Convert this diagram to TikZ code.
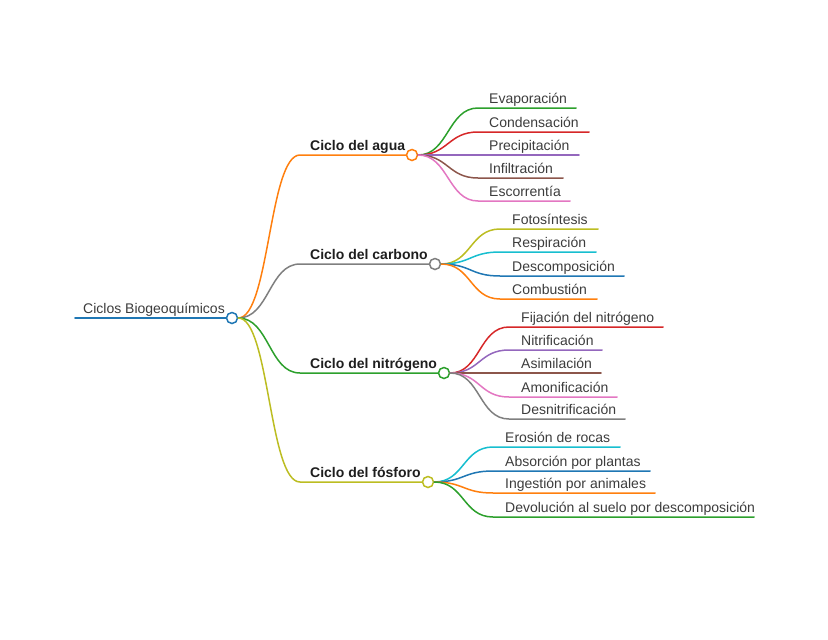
\documentclass[tikz,border=0pt]{standalone}
\usepackage{fontspec}
\setmainfont{Liberation Sans}
\usepackage{tikz}
\usetikzlibrary{positioning}
\definecolor{cblue}{HTML}{1F77B4}
\definecolor{corange}{HTML}{FF7F0E}
\definecolor{cgreen}{HTML}{2CA02C}
\definecolor{cred}{HTML}{D62728}
\definecolor{cpurple}{HTML}{9467BD}
\definecolor{cbrown}{HTML}{8C564B}
\definecolor{cpink}{HTML}{E377C2}
\definecolor{cgray}{HTML}{7F7F7F}
\definecolor{colive}{HTML}{BCBD22}
\definecolor{ccyan}{HTML}{17BECF}
\definecolor{txtgray}{HTML}{3C3C3C}
\definecolor{txtdark}{HTML}{1E1E1E}

\begin{document}
\begin{tikzpicture}[x=1pt, y=-1pt, line cap=round,
    every node/.style={font=\fontsize{14}{16}\selectfont, text=txtgray, inner sep=0pt},
    hub/.style={circle, fill=white, line width=1.5pt, minimum size=11pt},
    leaf/.style={anchor=base west},
    branch/.style={anchor=base west, font=\fontsize{14}{16}\selectfont\bfseries, text=txtdark},
    link/.style={line width=1.5pt}]
    \useasboundingbox (0,0) rectangle (828,640);

    % centre
    \node[hub, draw=cblue] (root) at (232,318) {};
    \coordinate (root-s) at (75,318);
    \node[leaf] (roottxt) at (83,313) {Ciclos Biogeoquímicos};
    \draw[link, cblue, line width=1.8pt] (root-s) -- (root.west);

    % ciclos
    \node[hub, draw=corange] (agua) at (412,155) {};
    \node[hub, draw=cgray] (carb) at (435,264) {};
    \node[hub, draw=cgreen] (nitro) at (444,373) {};
    \node[hub, draw=colive] (fosf) at (428,482) {};
    \coordinate (agua-s) at (300,155);
    \coordinate (carb-s) at (300,264);
    \coordinate (nitro-s) at (300,373);
    \coordinate (fosf-s) at (300,482);
    \node[branch] (aguatxt) at (310,150) {Ciclo del agua};
    \node[branch] (carbtxt) at (310,259) {Ciclo del carbono};
    \node[branch] (nitrotxt) at (310,368) {Ciclo del nitrógeno};
    \node[branch] (fosftxt) at (310,477) {Ciclo del fósforo};
    \draw[link, corange] (root.east) .. controls +(31,0) and +(-31,0) .. (agua-s) -- (agua);
    \draw[link, cgray] (root.east) .. controls +(31,0) and +(-31,0) .. (carb-s) -- (carb);
    \draw[link, cgreen] (root.east) .. controls +(31,0) and +(-31,0) .. (nitro-s) -- (nitro);
    \draw[link, colive] (root.east) .. controls +(31,0) and +(-31,0) .. (fosf-s) -- (fosf);

    % agua
    \node[leaf] (evap) at (489,103.5) {Evaporación};
    \coordinate (evap-s) at (478,108); \coordinate (evap-e) at (576,108);
    \draw[link, cgreen] (agua.east) .. controls +(30,0) and +(-30,0) .. (evap-s) -- (evap-e);
    \node[leaf] (cond) at (489,127.5) {Condensación};
    \coordinate (cond-s) at (478,132); \coordinate (cond-e) at (589,132);
    \draw[link, cred] (agua.east) .. controls +(30,0) and +(-30,0) .. (cond-s) -- (cond-e);
    \node[leaf] (prec) at (489,150.5) {Precipitación};
    \coordinate (prec-s) at (478,155); \coordinate (prec-e) at (579,155);
    \draw[link, cpurple] (agua.east) -- (prec-s) -- (prec-e);
    \node[leaf] (infi) at (489,173.5) {Infiltración};
    \coordinate (infi-s) at (478,178); \coordinate (infi-e) at (563,178);
    \draw[link, cbrown] (agua.east) .. controls +(30,0) and +(-30,0) .. (infi-s) -- (infi-e);
    \node[leaf] (esco) at (489,196.5) {Escorrentía};
    \coordinate (esco-s) at (478,201); \coordinate (esco-e) at (570,201);
    \draw[link, cpink] (agua.east) .. controls +(30,0) and +(-30,0) .. (esco-s) -- (esco-e);

    % carbono
    \node[leaf] (foto) at (512,224.5) {Fotosíntesis};
    \coordinate (foto-s) at (500,229); \coordinate (foto-e) at (598,229);
    \draw[link, colive] (carb.east) .. controls +(30,0) and +(-30,0) .. (foto-s) -- (foto-e);
    \node[leaf] (resp) at (512,247.5) {Respiración};
    \coordinate (resp-s) at (500,252); \coordinate (resp-e) at (596,252);
    \draw[link, ccyan] (carb.east) .. controls +(30,0) and +(-30,0) .. (resp-s) -- (resp-e);
    \node[leaf] (desc) at (512,271.5) {Descomposición};
    \coordinate (desc-s) at (500,276); \coordinate (desc-e) at (624,276);
    \draw[link, cblue] (carb.east) .. controls +(30,0) and +(-30,0) .. (desc-s) -- (desc-e);
    \node[leaf] (comb) at (512,294.5) {Combustión};
    \coordinate (comb-s) at (500,299); \coordinate (comb-e) at (597,299);
    \draw[link, corange] (carb.east) .. controls +(30,0) and +(-30,0) .. (comb-s) -- (comb-e);

    % nitrogeno
    \node[leaf] (fija) at (521,322.5) {Fijación del nitrógeno};
    \coordinate (fija-s) at (509,327); \coordinate (fija-e) at (663,327);
    \draw[link, cred] (nitro.east) .. controls +(30,0) and +(-30,0) .. (fija-s) -- (fija-e);
    \node[leaf] (nitr) at (521,345.5) {Nitrificación};
    \coordinate (nitr-s) at (509,350); \coordinate (nitr-e) at (602,350);
    \draw[link, cpurple] (nitro.east) .. controls +(30,0) and +(-30,0) .. (nitr-s) -- (nitr-e);
    \node[leaf] (asim) at (521,368.5) {Asimilación};
    \coordinate (asim-s) at (509,373); \coordinate (asim-e) at (601,373);
    \draw[link, cbrown] (nitro.east) -- (asim-s) -- (asim-e);
    \node[leaf] (amon) at (521,392.5) {Amonificación};
    \coordinate (amon-s) at (509,397); \coordinate (amon-e) at (617,397);
    \draw[link, cpink] (nitro.east) .. controls +(30,0) and +(-30,0) .. (amon-s) -- (amon-e);
    \node[leaf] (desn) at (521,414.5) {Desnitrificación};
    \coordinate (desn-s) at (509,419); \coordinate (desn-e) at (625,419);
    \draw[link, cgray] (nitro.east) .. controls +(30,0) and +(-30,0) .. (desn-s) -- (desn-e);

    % fosforo
    \node[leaf] (eros) at (505,442.5) {Erosión de rocas};
    \coordinate (eros-s) at (493,447); \coordinate (eros-e) at (620,447);
    \draw[link, ccyan] (fosf.east) .. controls +(30,0) and +(-30,0) .. (eros-s) -- (eros-e);
    \node[leaf] (abso) at (505,466.5) {Absorción por plantas};
    \coordinate (abso-s) at (493,471); \coordinate (abso-e) at (650,471);
    \draw[link, cblue] (fosf.east) .. controls +(30,0) and +(-30,0) .. (abso-s) -- (abso-e);
    \node[leaf] (inge) at (505,488.5) {Ingestión por animales};
    \coordinate (inge-s) at (493,493); \coordinate (inge-e) at (655,493);
    \draw[link, corange] (fosf.east) .. controls +(30,0) and +(-30,0) .. (inge-s) -- (inge-e);
    \node[leaf] (devo) at (505,512.5) {Devolución al suelo por descomposición};
    \coordinate (devo-s) at (493,517); \coordinate (devo-e) at (754,517);
    \draw[link, cgreen] (fosf.east) .. controls +(30,0) and +(-30,0) .. (devo-s) -- (devo-e);
\end{tikzpicture}
\end{document}
